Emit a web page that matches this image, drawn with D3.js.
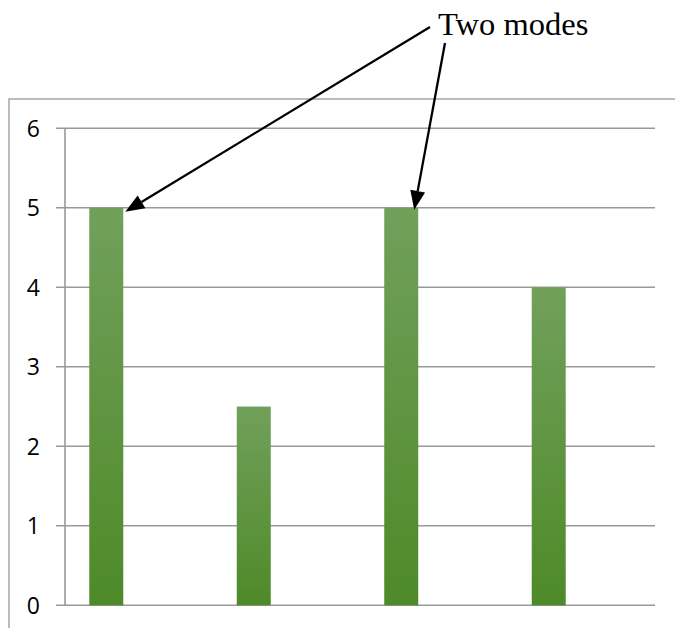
<!DOCTYPE html>
<html>
<head>
<meta charset="utf-8">
<script src="https://cdn.jsdelivr.net/npm/d3@7"></script>
<style>
  html, body { margin: 0; padding: 0; background: #fff; }
  svg { display: block; }
</style>
</head>
<body>
<svg id="chart" width="675" height="628"></svg>
<script>
// Frequency of each category; two share the highest count (the modes)
const categories = ["A", "B", "C", "D"];
const values = [5, 2.5, 5, 4];
const yTicks = [0, 1, 2, 3, 4, 5, 6];
const annotationText = "Two modes";
const modeIndexes = [0, 2];

const svg = d3.select("#chart");

const plot = { left: 65, right: 655, top: 128.3, bottom: 605.3 };

const y = d3.scaleLinear().domain([0, 6]).range([plot.bottom, plot.top]);
const x = d3.scaleBand()
  .domain(categories)
  .range([32.5, 622.5])
  .paddingInner(0.7695)
  .paddingOuter(0.385);

// Vertical bar gradient: lighter green at the top, deeper green at the base
const defs = svg.append("defs");
const grad = defs.append("linearGradient")
  .attr("id", "barFill")
  .attr("x1", 0).attr("y1", 0).attr("x2", 0).attr("y2", 1);
grad.append("stop").attr("offset", "0%").attr("stop-color", "#71a05b");
grad.append("stop").attr("offset", "100%").attr("stop-color", "#4e8a28");

// Outer chart frame (top and left edges visible)
svg.append("path")
  .attr("d", "M9,628 L9,99 L675,99")
  .attr("fill", "none")
  .attr("stroke", "#a6a6a6")
  .attr("stroke-width", 1.5);

// Horizontal gridlines with short tick stubs on the left
svg.append("g").selectAll("line")
  .data(yTicks)
  .join("line")
  .attr("x1", 56).attr("x2", plot.right)
  .attr("y1", d => y(d)).attr("y2", d => y(d))
  .attr("stroke", "#999")
  .attr("stroke-width", 1.6);

// Value axis line
svg.append("line")
  .attr("x1", plot.left).attr("x2", plot.left)
  .attr("y1", y(6)).attr("y2", y(0))
  .attr("stroke", "#999")
  .attr("stroke-width", 1.6);

// Tick labels
svg.append("g").selectAll("text")
  .data(yTicks)
  .join("text")
  .attr("x", 40)
  .attr("y", d => y(d) + 8.5)
  .attr("text-anchor", "end")
  .attr("font-family", "'Open Sans', 'Noto Sans', sans-serif")
  .attr("font-size", 23)
  .attr("fill", "#000")
  .text(d => d);

// Bars
svg.append("g").selectAll("rect")
  .data(values)
  .join("rect")
  .attr("x", (d, i) => x(categories[i]))
  .attr("width", x.bandwidth())
  .attr("y", d => y(d))
  .attr("height", d => y(0) - y(d))
  .attr("fill", "url(#barFill)");

// Annotation pointing to the two modes
svg.append("text")
  .attr("x", 438)
  .attr("y", 35)
  .attr("font-family", "'Liberation Serif', 'Times New Roman', serif")
  .attr("font-size", 32.5)
  .attr("fill", "#000")
  .text(annotationText);

const arrowStarts = [[430, 27], [445, 43]];
const tipOffsets = [[2, 4], [-4, 2]];
const headLen = 19, headHalf = 7.5;

const arrows = modeIndexes.map((d, i) => {
  const [sx, sy] = arrowStarts[i];
  const tx = x(categories[d]) + x.bandwidth() + tipOffsets[i][0];
  const ty = y(values[d]) + tipOffsets[i][1];
  const len = Math.hypot(tx - sx, ty - sy);
  const ux = (tx - sx) / len, uy = (ty - sy) / len;
  const bx = tx - ux * headLen, by = ty - uy * headLen;
  return {
    sx, sy, tx, ty, bx, by,
    head: [[tx, ty], [bx - uy * headHalf, by + ux * headHalf], [bx + uy * headHalf, by - ux * headHalf]]
  };
});

const ag = svg.append("g");
ag.selectAll("line")
  .data(arrows)
  .join("line")
  .attr("x1", a => a.sx).attr("y1", a => a.sy)
  .attr("x2", a => a.bx).attr("y2", a => a.by)
  .attr("stroke", "#000")
  .attr("stroke-width", 2.3);
ag.selectAll("path")
  .data(arrows)
  .join("path")
  .attr("d", a => "M" + a.head.map(p => p.join(",")).join("L") + "Z")
  .attr("fill", "#000");
</script>
</body>
</html>
